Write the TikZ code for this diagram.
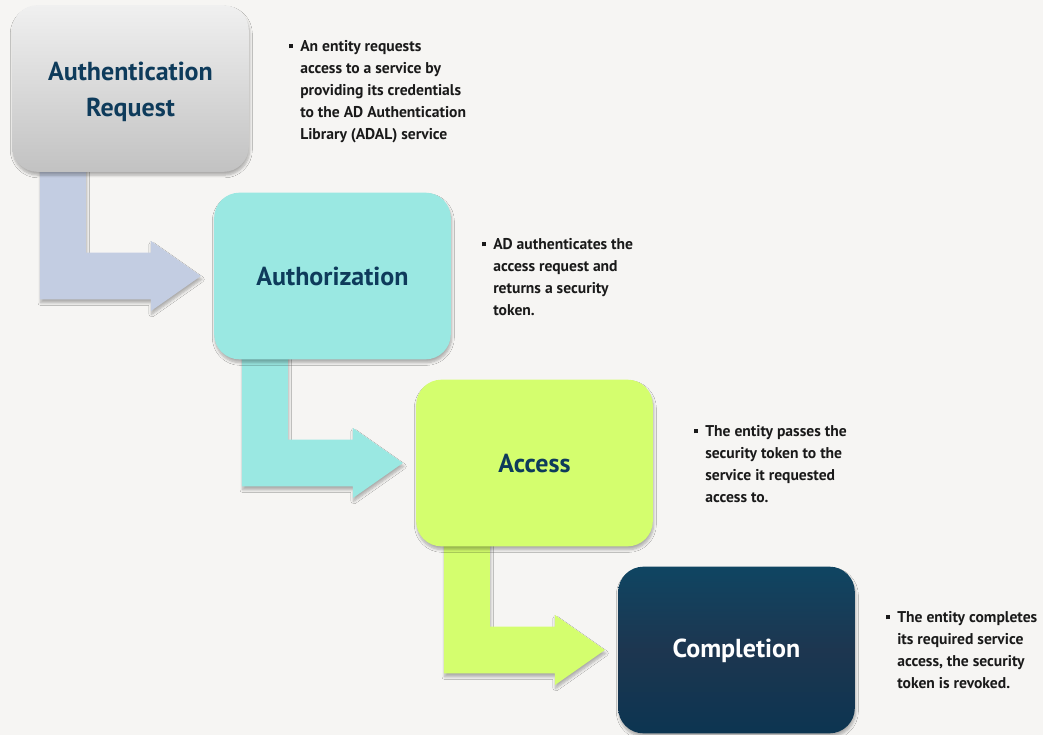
\documentclass[tikz,border=0pt]{standalone}
\usepackage{fontspec}
\setmainfont{PT Sans}
\usetikzlibrary{calc,shadows.blur}
\definecolor{paper}{HTML}{F6F5F3}
\definecolor{navy}{HTML}{0E3B5B}
\definecolor{grayTop}{HTML}{F0F0F0}
\definecolor{grayBot}{HTML}{C2C2C2}
\definecolor{lavender}{HTML}{C3CDE2}
\definecolor{aqua}{HTML}{9AE8E2}
\definecolor{lime}{HTML}{D4FE6E}
\definecolor{deepTop}{HTML}{0F4562}
\definecolor{deepMid}{HTML}{1D3650}
\definecolor{deepBot}{HTML}{0C3551}
\definecolor{ink}{HTML}{1A1A1A}
\tikzset{
  x=0.75pt, y=-0.75pt,
  soft shadow/.style={blur shadow={shadow blur steps=6, shadow xshift=0.6pt, shadow yshift=-2.5pt, shadow opacity=30}},
  stage/.style={rectangle, rounded corners=19pt, minimum width=177.5pt, minimum height=125pt, inner sep=0pt},
  stagebox/.style={stage, soft shadow},
  title/.style={align=center, inner sep=0pt, yshift=-0.6pt,
    font=\fontsize{19.5}{27.5}\selectfont\bfseries},
  note/.style={anchor=north west, align=left, inner sep=0pt, text=ink,
    font=\fontsize{11.7}{16.5}\selectfont\bfseries},
}
% bullet glyph for the side notes
\newcommand{\notebullet}{\llap{\rule[2.3pt]{3.2pt}{3.2pt}\hspace{5.5pt}}}
% bent arrow from the foot of one stage to the left side of the next
\newcommand{\bentarrow}[3]{%
  \fill[#3, soft shadow] let \p1=(#1.south west), \p2=(#2.west) in
    (\x1+21pt,\y1+6pt) -- (\x1+55.5pt,\y1+6pt) -- (\x1+55.5pt,\y2+17.6pt)
    -- (\x2-47.3pt,\y2+17.6pt) -- (\x2-47.3pt,\y2+26.3pt) -- (\x2-9.8pt,\y2)
    -- (\x2-47.3pt,\y2-26.3pt) -- (\x2-47.3pt,\y2-17.6pt) -- (\x1+21pt,\y2-17.6pt) -- cycle;}
\begin{document}
\begin{tikzpicture}
\fill[paper] (0,0) rectangle (1043,735);
\useasboundingbox (0,0) rectangle (1043,735);

% stage outlines (unpainted) so the arrows can refer to them
\path node[stage] (auth) at (130.5,88.5) {}
      node[stage] (authz) at (332.5,276) {}
      node[stage] (access) at (534.5,463) {}
      node[stage] (done) at (736.5,650) {};

% connectors, under the boxes
\bentarrow{auth}{authz}{lavender}
\bentarrow{authz}{access}{aqua}
\bentarrow{access}{done}{lime}

% stage boxes on top of the arrow stems
\node[stagebox, top color=grayTop, bottom color=grayBot] (box1) at (auth) {};
\node[stagebox, fill=aqua] (box2) at (authz) {};
\node[stagebox, fill=lime] (box3) at (access) {};
\node[stagebox, top color=deepTop, bottom color=deepBot, middle color=deepMid] (box4) at (done) {};

% stage titles
\node[title, text=navy, yshift=-2pt] (t1) at (box1) {Authentication\\Request};
\node[title, text=navy] (t2) at (box2) {Authorization};
\node[title, text=navy] (t3) at (box3) {Access};
\node[title, text=white] (t4) at (box4) {Completion};

% side notes
\node[note] (n1) at (300,40) {\notebullet An entity requests\\access to a service by\\providing its credentials\\to the AD Authentication\\Library (ADAL) service};
\node[note] (n2) at (493,238) {\notebullet AD authenticates the\\access request and\\returns a security\\token.};
\node[note] (n3) at (705,425) {\notebullet The entity passes the\\security token to the\\service it requested\\access to.};
\node[note] (n4) at (897,611) {\notebullet The entity completes\\its required service\\access, the security\\token is revoked.};
\end{tikzpicture}
\end{document}
